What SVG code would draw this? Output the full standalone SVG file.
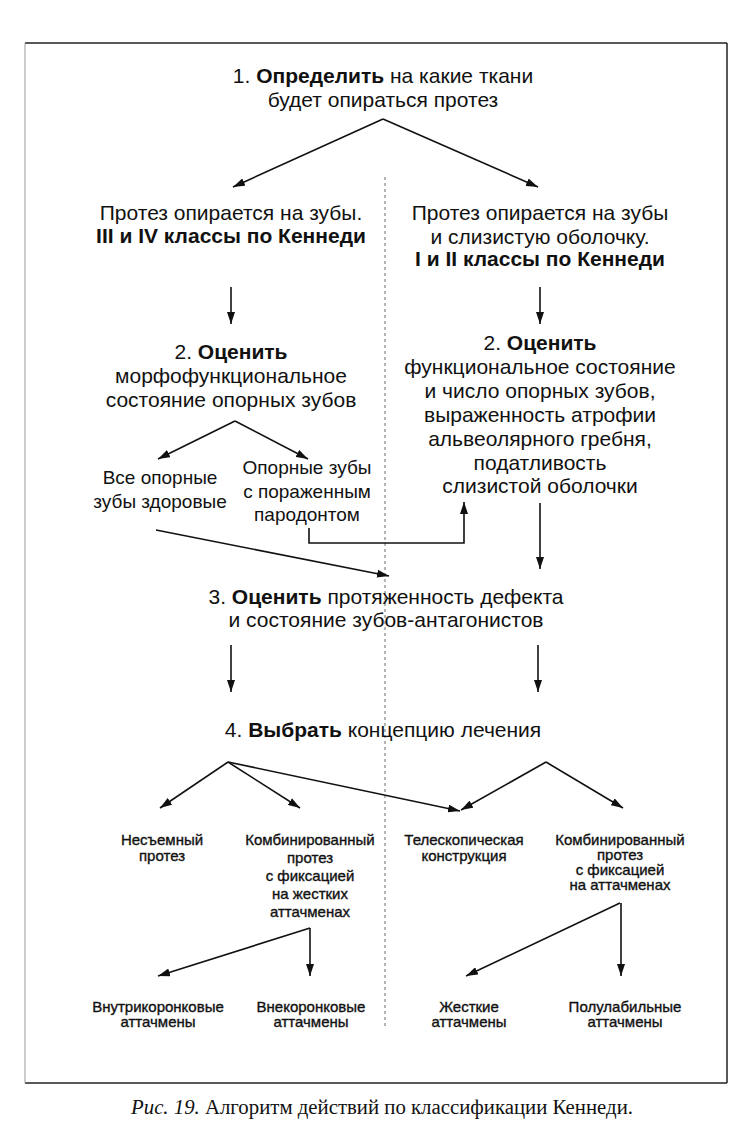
<svg xmlns="http://www.w3.org/2000/svg" width="741" height="1130" viewBox="0 0 741 1130">
<defs>
<marker id="ah" viewBox="0 0 12 8" refX="12" refY="4" markerWidth="12" markerHeight="8" markerUnits="userSpaceOnUse" orient="auto">
<path d="M0,0 L12,4 L0,8 Z" fill="#111"/>
</marker>
<style>
text{font-family:"Liberation Sans",Arial,sans-serif;fill:#111;text-anchor:middle}
.l{font-size:21px}
.m{font-size:19px}
.s{font-size:15px;stroke:#111;stroke-width:0.35}
.b{font-weight:bold}
.c{stroke:#111;stroke-width:1.6;fill:none}
.a{marker-end:url(#ah)}
.cap{font-family:"Liberation Serif","Times New Roman",serif;font-size:20.8px}
</style>
</defs>
<rect width="741" height="1130" fill="#fff"/>
<g id="frame">
<line x1="25" y1="43" x2="727" y2="43" stroke="#222" stroke-width="1.5"/>
<line x1="727" y1="43" x2="727" y2="1083" stroke="#222" stroke-width="1.5"/>
<line x1="25" y1="1083" x2="727" y2="1083" stroke="#222" stroke-width="1.5"/>
<line x1="25" y1="43" x2="25" y2="1083" stroke="#999" stroke-width="1"/>
</g>
<g id="divider">
<line x1="385" y1="177" x2="385" y2="1028" stroke="#444" stroke-width="0.8" stroke-dasharray="3,3"/>
</g>
<g id="connectors">
<line class="c a" x1="383" y1="119" x2="233" y2="187"/>
<line class="c a" x1="383" y1="119" x2="538" y2="187"/>
<line class="c a" x1="231" y1="287" x2="231" y2="324"/>
<line class="c a" x1="540" y1="287" x2="540" y2="324"/>
<line class="c a" x1="235" y1="421" x2="158" y2="459"/>
<line class="c a" x1="235" y1="421" x2="308" y2="459"/>
<polyline class="c a" points="309,528 309,543 464,543 464,502"/>
<line class="c a" x1="156" y1="530" x2="389" y2="576"/>
<line class="c a" x1="540" y1="503" x2="540" y2="569"/>
<line class="c a" x1="231" y1="645" x2="231" y2="692"/>
<line class="c a" x1="538" y1="645" x2="538" y2="692"/>
<line class="c a" x1="228" y1="762" x2="160" y2="808"/>
<line class="c a" x1="228" y1="762" x2="300" y2="808"/>
<line class="c a" x1="228" y1="762" x2="460" y2="811"/>
<line class="c a" x1="546" y1="762" x2="461" y2="810"/>
<line class="c a" x1="546" y1="762" x2="623" y2="808"/>
<line class="c a" x1="310" y1="928" x2="158" y2="976"/>
<line class="c a" x1="310" y1="928" x2="310" y2="976"/>
<line class="c a" x1="620" y1="903" x2="466" y2="976"/>
<line class="c a" x1="621" y1="903" x2="621" y2="976"/>
</g>
<g id="n1"><text class="l" x="383" y="83">1. <tspan class="b">Определить</tspan> на какие ткани</text><text class="l" x="383" y="107">будет опираться протез</text></g>
<g id="n2"><text class="l" x="231" y="220">Протез опирается на зубы.</text><text class="l b" x="231" y="243">III и IV классы по Кеннеди</text></g>
<g id="n3"><text class="l" x="540" y="220">Протез опирается на зубы</text><text class="l" x="540" y="244">и слизистую оболочку.</text><text class="l b" x="540" y="266">I и II классы по Кеннеди</text></g>
<g id="n4"><text class="l" x="231" y="359">2. <tspan class="b">Оценить</tspan></text><text class="l" x="231" y="383">морфофункциональное</text><text class="l" x="231" y="407">состояние опорных зубов</text></g>
<g id="n5"><text class="l" x="540" y="350">2. <tspan class="b">Оценить</tspan></text><text class="l" x="540" y="374">функциональное состояние</text><text class="l" x="540" y="398">и число опорных зубов,</text><text class="l" x="540" y="422">выраженность атрофии</text><text class="l" x="540" y="446">альвеолярного гребня,</text><text class="l" x="540" y="470">податливость</text><text class="l" x="540" y="493">слизистой оболочки</text></g>
<g id="n6"><text class="m" x="160" y="484">Все опорные</text><text class="m" x="160" y="508">зубы здоровые</text></g>
<g id="n7"><text class="m" x="307" y="474">Опорные зубы</text><text class="m" x="307" y="498">с пораженным</text><text class="m" x="307" y="521">пародонтом</text></g>
<g id="n8"><text class="l" x="386" y="604">3. <tspan class="b">Оценить</tspan> протяженность дефекта</text><text class="l" x="386" y="627">и состояние зубов-антагонистов</text></g>
<g id="n9"><text class="l" x="383" y="737">4. <tspan class="b">Выбрать</tspan> концепцию лечения</text></g>
<g id="n10"><text class="s" x="162" y="845">Несъемный</text><text class="s" x="162" y="861">протез</text></g>
<g id="n11"><text class="s" x="310" y="845">Комбинированный</text><text class="s" x="310" y="863">протез</text><text class="s" x="310" y="881">с фиксацией</text><text class="s" x="310" y="899">на жестких</text><text class="s" x="310" y="917">аттачменах</text></g>
<g id="n12"><text class="s" x="464" y="845">Телескопическая</text><text class="s" x="464" y="861">конструкция</text></g>
<g id="n13"><text class="s" x="620" y="845">Комбинированный</text><text class="s" x="620" y="860">протез</text><text class="s" x="620" y="875">с фиксацией</text><text class="s" x="620" y="890">на аттачменах</text></g>
<g id="n14"><text class="s" x="158" y="1012">Внутрикоронковые</text><text class="s" x="158" y="1027">аттачмены</text></g>
<g id="n15"><text class="s" x="311" y="1012">Внекоронковые</text><text class="s" x="311" y="1027">аттачмены</text></g>
<g id="n16"><text class="s" x="469" y="1012">Жесткие</text><text class="s" x="469" y="1027">аттачмены</text></g>
<g id="n17"><text class="s" x="625" y="1012">Полулабильные</text><text class="s" x="625" y="1027">аттачмены</text></g>
<g id="caption"><text class="cap" x="382" y="1114"><tspan font-style="italic">Рис. 19.</tspan> Алгоритм действий по классификации Кеннеди.</text></g>
</svg>
